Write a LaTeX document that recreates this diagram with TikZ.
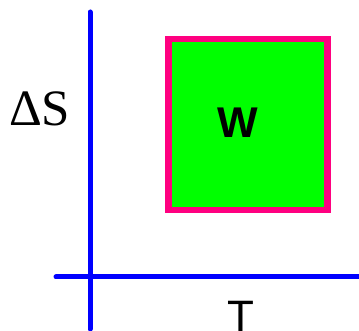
\documentclass[tikz,border=0pt]{standalone}
\usepackage{fontspec}
\newfontfamily\serifface{Liberation Serif}
\newfontfamily\sansface{Liberation Sans}
\usepackage{tikz}
\definecolor{axisblue}{RGB}{0,0,255}
\definecolor{workgreen}{RGB}{0,255,0}
\definecolor{borderpink}{RGB}{255,0,128}

\begin{document}
\begin{tikzpicture}[x=1pt,y=1pt]
  \useasboundingbox (0,0) rectangle (359,331);
  \coordinate (Ytop) at (90,319);
  \coordinate (Ybot) at (90,2);
  \coordinate (Xleft) at (56,54);
  \coordinate (Xright) at (365,54);
  % 軸
  \draw[axisblue,line width=5pt,line cap=round] (Ybot)--(Ytop);
  \draw[axisblue,line width=5pt,line cap=round] (Xleft)--(Xright);
  % 仕事
  \node[draw=borderpink,fill=workgreen,line width=6.5pt,inner sep=0pt,
        minimum width=159pt,minimum height=171pt] (box) at (248.2,206.5) {};
  \node[font=\sansface\bfseries\fontsize{43}{43}\selectfont] (W) at (238,208.5) {W};
  % ラベル
  \node[anchor=base west,inner sep=0pt,font=\serifface\fontsize{51}{51}\selectfont] (dS) at (9,205) {ΔS};
  \node[anchor=north,inner sep=0pt,font=\sansface\fontsize{44}{44}\selectfont] (T) at (240.5,30) {T};
\end{tikzpicture}
\end{document}
